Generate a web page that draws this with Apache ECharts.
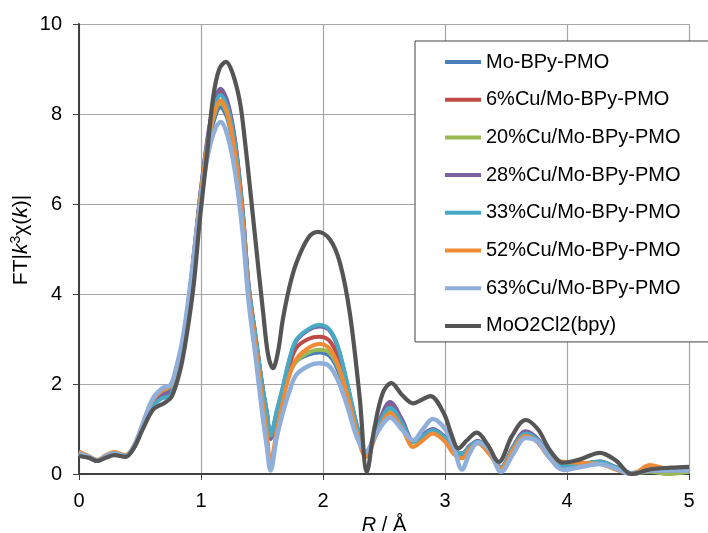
<!DOCTYPE html>
<html>
<head>
<meta charset="utf-8">
<script src="https://cdn.jsdelivr.net/npm/echarts@6/dist/echarts.min.js"></script>
<style>
html,body{margin:0;padding:0;background:#fff;}
#chart{width:708px;height:533px;}
</style>
</head>
<body>
<div id="chart"></div>
<script>
// Shared R grid (Å) for the sample series
const R = [0, 0.08, 0.15, 0.22, 0.29, 0.38, 0.45, 0.52, 0.6, 0.68, 0.75, 0.8, 0.85, 0.9, 0.95, 1.0, 1.05, 1.1, 1.16, 1.22, 1.28, 1.34, 1.39, 1.45, 1.5, 1.54, 1.57, 1.62, 1.67, 1.72, 1.78, 1.88, 1.97, 2.05, 2.12, 2.2, 2.28, 2.35, 2.45, 2.55, 2.65, 2.74, 2.82, 2.9, 3.0, 3.07, 3.14, 3.2, 3.27, 3.36, 3.46, 3.56, 3.66, 3.76, 3.86, 3.97, 4.1, 4.27, 4.4, 4.53, 4.68, 4.82, 5.0];

const moBPyPMO = [0.46,0.38,0.30,0.40,0.46,0.40, 0.60,1.05,1.55,1.78,1.88, 2.3,2.9,3.8,5.0,6.15, 7.15,7.8,8.15,7.87,7.05, 5.7,4.1,2.95,2.0,1.35, 0.8,1.3,1.8,2.2,2.5, 2.65,2.70,2.63,2.32,1.62, 0.9,0.42,1.05,1.5,1.15, 0.72,0.85,0.98,0.8,0.55, 0.45,0.58,0.72,0.5,0.15, 0.6,0.92,0.75,0.38,0.16, 0.2,0.27,0.15,0.02,0.1, 0.1,0.12];
const cu6 = [0.47,0.38,0.30,0.40,0.46,0.40, 0.60,1.05,1.55,1.75,1.82, 2.25,2.9,3.85,5.1,6.3, 7.35,8.1,8.50,8.2,7.35, 5.9,4.2,3.0,2.0,1.35, 0.85,1.35,1.85,2.35,2.8, 3.0,3.05,2.97,2.62,1.85, 1.0,0.45,1.05,1.52,1.15, 0.72,0.85,0.98,0.8,0.55, 0.45,0.6,0.72,0.5,0.15, 0.6,0.93,0.75,0.38,0.16, 0.2,0.28,0.15,0.02,0.1, 0.1,0.12];
const cu20 = [0.48,0.39,0.31,0.41,0.47,0.41, 0.62,1.08,1.6,1.8,1.9, 2.3,2.95,3.85,5.05,6.2, 7.2,7.9,8.25,7.95,7.1, 5.75,4.1,2.95,2.0,1.35, 0.8,1.3,1.8,2.2,2.5, 2.7,2.76,2.7,2.4,1.75, 0.95,0.42,1.0,1.42,1.1, 0.7,0.83,0.95,0.78,0.52, 0.42,0.58,0.7,0.48,0.14, 0.58,0.9,0.75,0.4,0.16, 0.18,0.22,0.12,0.01,0.05, 0.0,0.05];
const cu28 = [0.46,0.37,0.29,0.39,0.45,0.39, 0.58,1.02,1.52,1.75,1.85, 2.25,2.9,3.85,5.1,6.35, 7.4,8.15,8.56,8.25,7.4, 5.9,4.2,3.0,2.0,1.33, 0.78,1.35,1.9,2.48,2.95, 3.2,3.28,3.2,2.82,1.98, 1.05,0.45,1.1,1.6,1.2, 0.74,0.88,1.0,0.82,0.55, 0.45,0.62,0.74,0.5,0.15, 0.62,0.95,0.78,0.38,0.15, 0.18,0.25,0.13,0.0,0.08, 0.08,0.1];
const cu33 = [0.45,0.36,0.29,0.38,0.44,0.39, 0.58,1.02,1.5,1.68,1.75, 2.2,2.9,3.85,5.05,6.3, 7.3,8.0,8.42,8.12,7.3, 5.85,4.15,3.0,2.0,1.38, 0.85,1.4,1.93,2.5,2.98, 3.22,3.31,3.22,2.85,2.0, 1.05,0.45,1.05,1.47,1.12, 0.72,0.85,0.97,0.8,0.55, 0.45,0.6,0.72,0.5,0.15, 0.6,0.9,0.75,0.38,0.16, 0.22,0.28,0.15,0.02,0.1, 0.12,0.1];
const cu52 = [0.5,0.4,0.31,0.42,0.49,0.42, 0.62,1.1,1.62,1.85,1.95, 2.35,2.95,3.85,5.05,6.25, 7.25,7.95,8.3,7.98,7.1, 5.7,4.02,2.8,1.7,0.9, 0.25,0.95,1.6,2.15,2.55, 2.8,2.89,2.8,2.45,1.75, 0.9,0.38,0.95,1.35,1.0, 0.6,0.75,0.9,0.72,0.45, 0.35,0.55,0.68,0.45,0.12, 0.55,0.85,0.7,0.35,0.27, 0.25,0.22,0.1,0.0,0.2, 0.12,0.14];
const cu63 = [0.46,0.38,0.3,0.4,0.46,0.4, 0.62,1.1,1.65,1.9,1.98, 2.4,3.0,3.95,5.05,6.1, 7.0,7.55,7.82,7.5,6.7, 5.4,3.85,2.55,1.4,0.6, 0.08,0.8,1.35,1.8,2.2, 2.4,2.46,2.4,2.1,1.5, 0.8,0.5,0.95,1.25,0.98, 0.75,1.0,1.22,1.0,0.6, 0.1,0.45,0.7,0.55,0.05, 0.45,0.8,0.72,0.35,0.09, 0.15,0.22,0.12,0.0,0.08, 0.08,0.08];

// Reference compound on its own R grid
const R_ref = [0, 0.08, 0.15, 0.22, 0.29, 0.38, 0.45, 0.52, 0.61, 0.7, 0.76, 0.83, 0.88, 0.94, 0.99, 1.05, 1.1, 1.15, 1.205, 1.26, 1.32, 1.36, 1.4, 1.45, 1.51, 1.55, 1.59, 1.63, 1.67, 1.72, 1.78, 1.88, 1.96, 2.06, 2.14, 2.22, 2.3, 2.36, 2.42, 2.49, 2.56, 2.65, 2.74, 2.81, 2.88, 2.99, 3.05, 3.11, 3.18, 3.26, 3.35, 3.44, 3.55, 3.66, 3.76, 3.86, 3.97, 4.1, 4.27, 4.4, 4.53, 4.68, 4.85, 5.0];
const moO2Cl2bpy = [0.40,0.36,0.29,0.36,0.42,0.38, 0.58,0.98,1.44,1.58,1.72, 2.31,3.04,4.2,5.64,7.13, 8.38,9.0,9.16,8.9,8.25, 7.4,6.4,5.1,3.57,2.65, 2.35,2.7,3.42,4.1,4.68, 5.25,5.38,5.2,4.68,3.57, 1.72,0.05,1.0,1.8,2.02, 1.75,1.57,1.65,1.73,1.35, 0.9,0.57,0.75,0.92,0.65, 0.27,0.85,1.2,1.0,0.53, 0.25,0.32,0.47,0.3,0.0, 0.1,0.14,0.16];

const seriesNames = ['Mo-BPy-PMO','6%Cu/Mo-BPy-PMO','20%Cu/Mo-BPy-PMO','28%Cu/Mo-BPy-PMO','33%Cu/Mo-BPy-PMO','52%Cu/Mo-BPy-PMO','63%Cu/Mo-BPy-PMO','MoO2Cl2(bpy)'];
const seriesY = [moBPyPMO, cu6, cu20, cu28, cu33, cu52, cu63, moO2Cl2bpy];
const seriesX = [R, R, R, R, R, R, R, R_ref];
const colors = ['#4A7EBB','#BE4B48','#98B954','#7D60A0','#46AAC5','#F08A35','#8FAEDA','#555555'];
const widths = [4, 4, 4, 4, 4, 4, 4.5, 4.2];
const xTicks = [0,1,2,3,4,5];
const yTicks = [0,2,4,6,8,10];

const FONT = '"Liberation Sans", Arial, sans-serif';
const chart = echarts.init(document.getElementById('chart'), null, {renderer:'canvas'});

const series = seriesNames.map((name, i) => ({
  name: name,
  type: 'line',
  data: seriesX[i].map((x, j) => [x, seriesY[i][j]]),
  smooth: 0.35,
  showSymbol: false,
  symbol: 'none',
  clip: true,
  lineStyle: {color: colors[i], width: widths[i]},
  itemStyle: {color: colors[i]},
  emphasis: {disabled: true},
  z: 2
}));

chart.setOption({
  animation: false,
  backgroundColor: '#ffffff',
  grid: {left: 79, right: 19, top: 24, bottom: 59, containLabel: false, outerBoundsMode: 'none'},
  xAxis: {
    type: 'value',
    min: xTicks[0], max: xTicks[xTicks.length-1], interval: 1,
    name: '{i|R}{n| / Å}',
    nameLocation: 'middle', nameGap: 41,
    nameTextStyle: {rich: {
      i: {fontSize: 20, fontStyle: 'italic', fontFamily: FONT, color: '#000'},
      n: {fontSize: 20, fontFamily: FONT, color: '#000'}
    }},
    axisLine: {show: true, onZero: false, lineStyle: {color: '#404040', width: 2}},
    axisTick: {show: true, length: 6, lineStyle: {color: '#404040', width: 1}},
    axisLabel: {fontSize: 20, fontFamily: FONT, color: '#000', margin: 17},
    splitLine: {show: true, lineStyle: {color: '#a6a6a6', width: 1.2}}
  },
  yAxis: {
    type: 'value',
    min: yTicks[0], max: yTicks[yTicks.length-1], interval: 2,
    axisLine: {show: true, onZero: false, lineStyle: {color: '#404040', width: 2}},
    axisTick: {show: true, length: 6, lineStyle: {color: '#404040', width: 1}},
    axisLabel: {fontSize: 20, fontFamily: FONT, color: '#000', margin: 17},
    splitLine: {show: true, lineStyle: {color: '#a6a6a6', width: 1.2}}
  },
  graphic: [{
    type: 'text',
    x: 21, y: 240,
    rotation: Math.PI / 2,
    style: {
      text: '{n|FT|}{i|k}{s|3}{n|χ(}{i|k}{n|)|}',
      align: 'center', verticalAlign: 'middle',
      rich: {
        n: {fontSize: 21, fontFamily: FONT, fill: '#000', lineHeight: 24},
        i: {fontSize: 21, fontStyle: 'italic', fontFamily: FONT, fill: '#000', lineHeight: 24},
        s: {fontSize: 14, fontFamily: FONT, fill: '#000', verticalAlign: 'top', lineHeight: 14}
      }
    }
  }],
  legend: {
    show: true,
    orient: 'vertical',
    left: 415, top: 41,
    padding: [11, 40, 6, 30],
    itemGap: 17.7,
    itemWidth: 36, itemHeight: 4,
    icon: 'rect',
    backgroundColor: '#ffffff',
    borderColor: '#404040', borderWidth: 1,
    textStyle: {fontSize: 20, fontFamily: FONT, color: '#000', lineHeight: 20},
    data: seriesNames,
    selectedMode: false,
    z: 10
  },
  series: series
});
</script>
</body>
</html>
